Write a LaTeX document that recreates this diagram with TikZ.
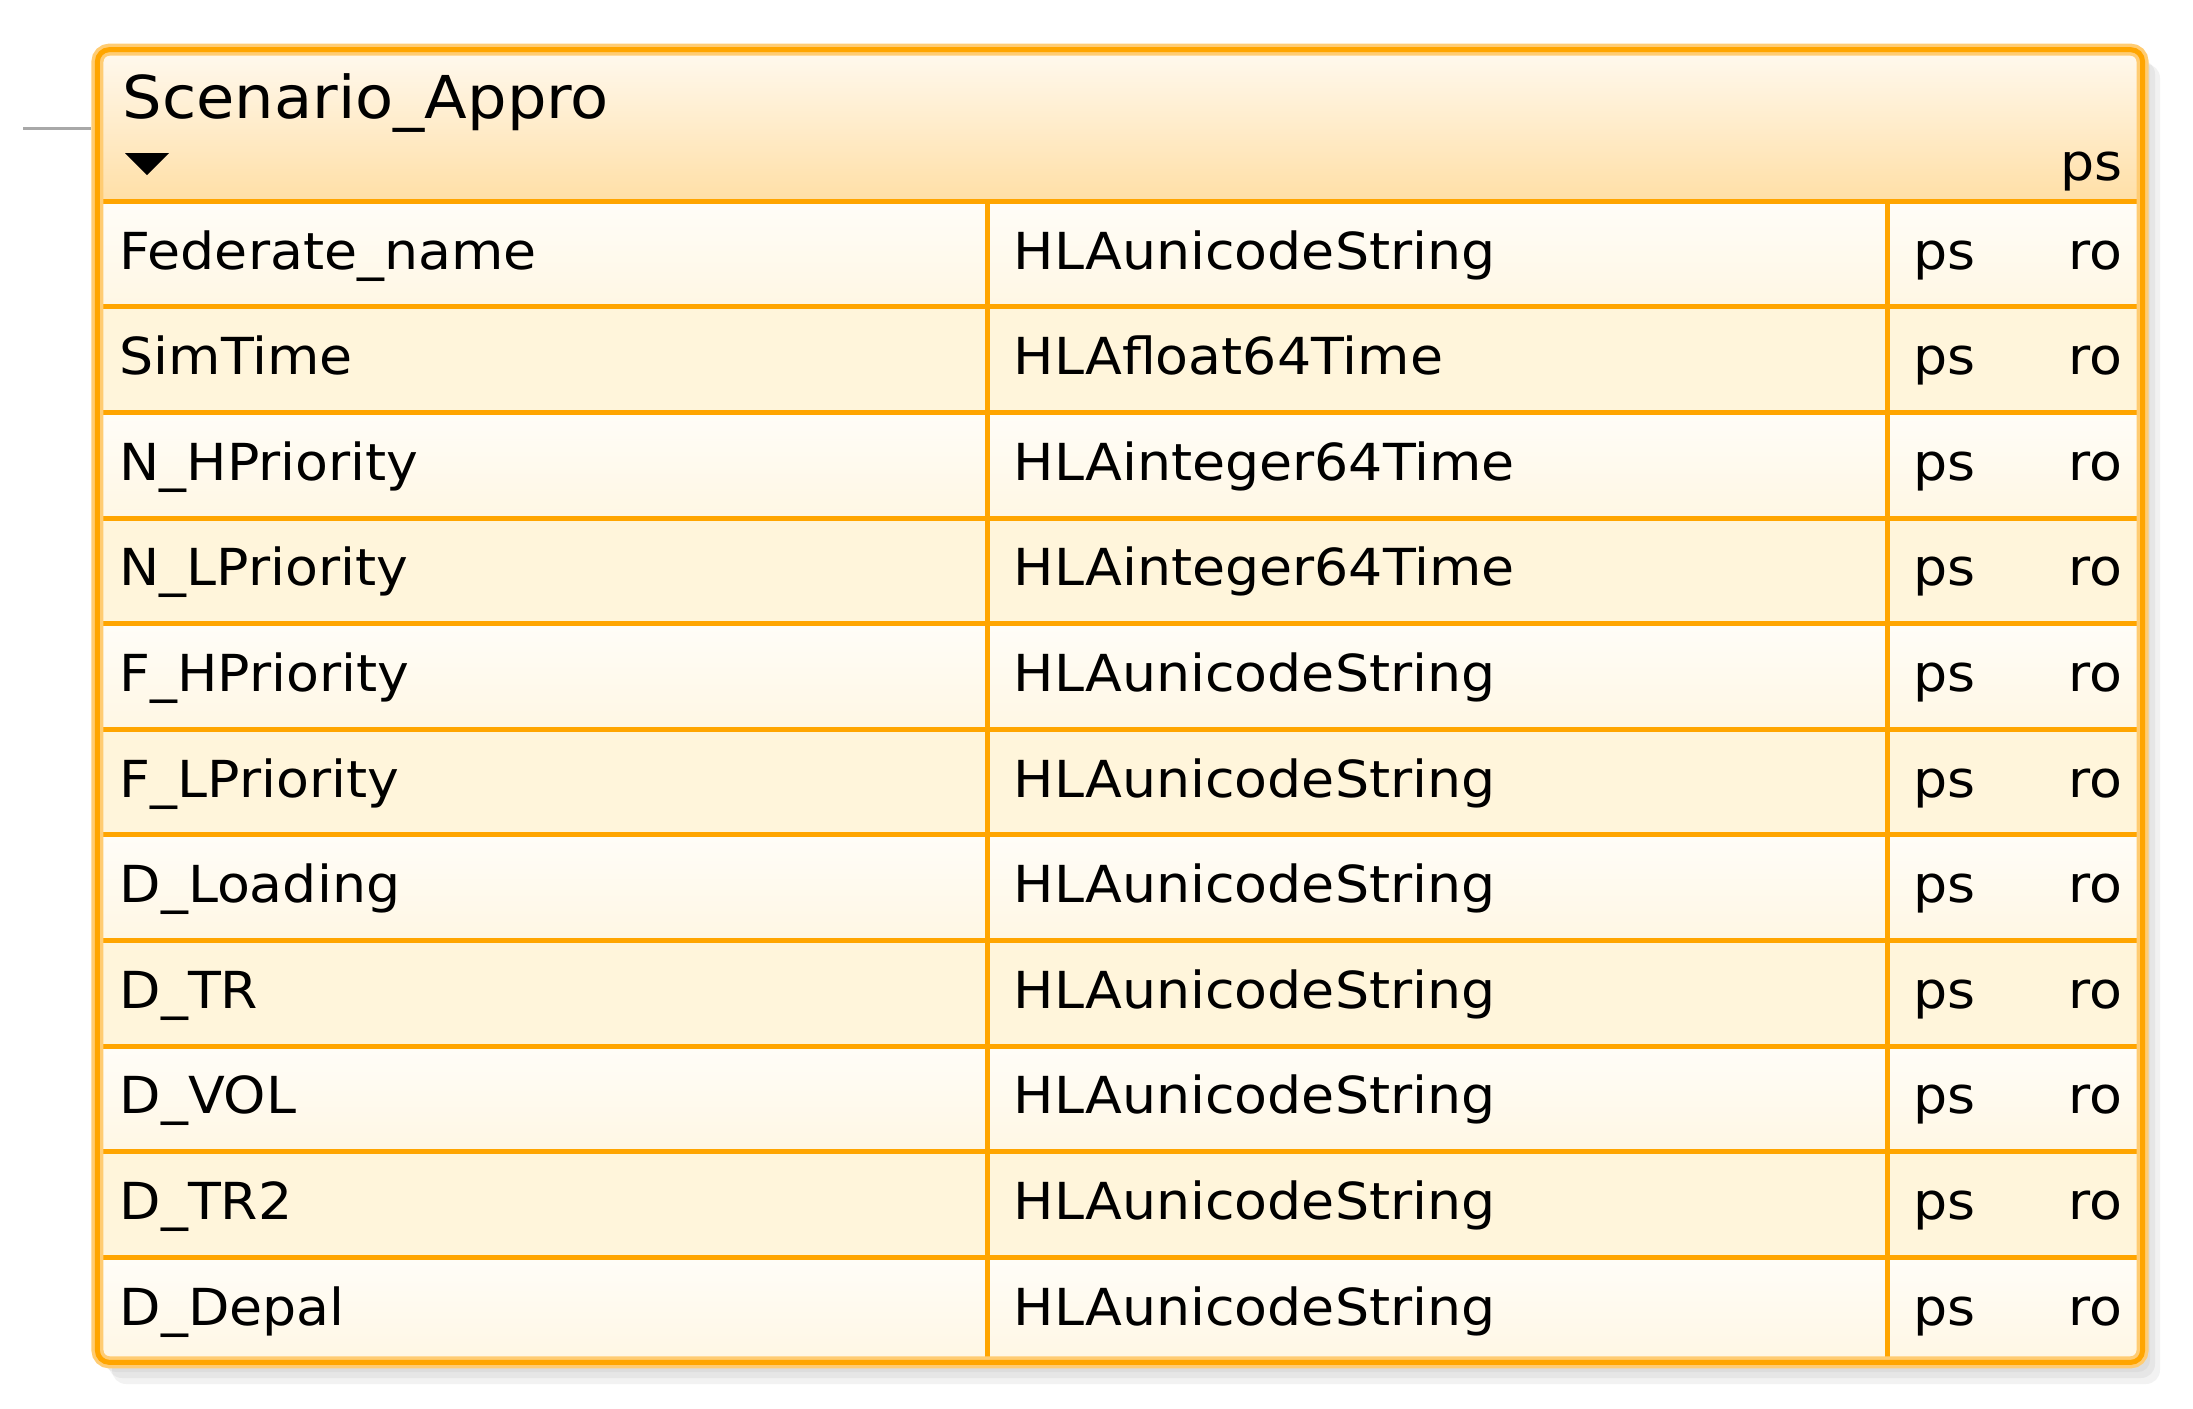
\documentclass[tikz,border=0pt]{standalone}
\usepackage{fontspec}
\setmainfont{DejaVu Sans}[FakeStretch=1.055]
\usetikzlibrary{positioning,shapes}

\definecolor{frameorange}{HTML}{FFA500}
\definecolor{framehalo}{HTML}{FFCC73}
\definecolor{headlight}{HTML}{FFF9EF}
\definecolor{headdark}{HTML}{FFDFA6}
\definecolor{rowlight}{HTML}{FFFDF8}
\definecolor{rowmid}{HTML}{FFF7E4}
\definecolor{rowcream}{HTML}{FFF5DB}
\definecolor{leadgray}{HTML}{A8A8A8}

\begin{document}
\begin{tikzpicture}[x=0.01cm,y=-0.01cm,thin]
\tikzstyle{cell}=[anchor=base west,inner sep=0pt,font=\fontsize{14.5}{17}\selectfont,text=black]
\tikzstyle{title}=[anchor=base west,inner sep=0pt,font=\fontsize{16.8}{20}\selectfont,text=black]
\tikzstyle{oddrow}=[rectangle,inner sep=0pt,minimum width=20.44cm,minimum height=1.056cm,top color=rowlight,bottom color=rowmid]
\tikzstyle{evenrow}=[rectangle,inner sep=0pt,minimum width=20.44cm,minimum height=1.056cm,fill=rowcream]
\tikzstyle{grid}=[draw=frameorange,line width=0.05cm]
\tikzstyle{frame}=[rectangle,rounded corners=0.12cm,inner sep=0pt,minimum width=20.44cm,minimum height=13.12cm]

\useasboundingbox (0,0) rectangle (2193,1408);

% shadow
\fill[black,opacity=0.05,rounded corners=0.14cm] (112,64) rectangle (2160,1384);
\fill[black,opacity=0.05,rounded corners=0.14cm] (108,60) rectangle (2155,1378);
\fill[black,opacity=0.04,rounded corners=0.12cm] (104,56) rectangle (2150,1372);

\node[frame,fill=white] (box) at (1120,706) {};

\begin{scope}
\clip[rounded corners=0.12cm] (98,50) rectangle (2142,1362);
\node[rectangle,inner sep=0pt,minimum width=20.44cm,minimum height=1.51cm,top color=headlight,bottom color=headdark] (head) at (1120,125.25) {};
\node[oddrow]  (r1)  at (1120,253.3)  {};
\node[evenrow] (r2)  at (1120,358.9)  {};
\node[oddrow]  (r3)  at (1120,464.5)  {};
\node[evenrow] (r4)  at (1120,570.1)  {};
\node[oddrow]  (r5)  at (1120,675.7)  {};
\node[evenrow] (r6)  at (1120,781.3)  {};
\node[oddrow]  (r7)  at (1120,886.9)  {};
\node[evenrow] (r8)  at (1120,992.5)  {};
\node[oddrow]  (r9)  at (1120,1098.1) {};
\node[evenrow] (r10) at (1120,1203.7) {};
\node[oddrow]  (r11) at (1120,1309.3) {};
\end{scope}

% table lines
\draw[grid] (head.south west) -- (head.south east);
\draw[grid] (r1.south west) -- (r1.south east);
\draw[grid] (r2.south west) -- (r2.south east);
\draw[grid] (r3.south west) -- (r3.south east);
\draw[grid] (r4.south west) -- (r4.south east);
\draw[grid] (r5.south west) -- (r5.south east);
\draw[grid] (r6.south west) -- (r6.south east);
\draw[grid] (r7.south west) -- (r7.south east);
\draw[grid] (r8.south west) -- (r8.south east);
\draw[grid] (r9.south west) -- (r9.south east);
\draw[grid] (r10.south west) -- (r10.south east);
\draw[grid] (987.5,200.5) -- (987.5,1361.5);
\draw[grid] (1887,200.5) -- (1887,1361.5);

% frame
\node[frame,draw=framehalo,line width=0.12cm] (halo) at (box) {};
\node[frame,draw=frameorange,line width=0.05cm] at (box) {};

\coordinate (lead) at (23,128);
\draw[leadgray,line width=0.03cm] (lead) -- (lead -| halo.west);

% header
\node[title] (name) at (122,118) {Scenario\_Appro};
\fill[black] (125,153) -- (169,153) -- (147,175) -- cycle;
\node[cell,anchor=base east] (hps) at (2123,180) {ps};

% rows
\node[cell] (a1)  at (119,269.0)  {Federate\_name};
\node[cell] (b1)  at (1013,269.0) {HLAunicodeString};
\node[cell] (c1)  at (1913,269.0) {ps};
\node[cell,anchor=base east] (d1)  at (2123,269.0) {ro};

\node[cell] (a2)  at (119,374.6)  {SimTime};
\node[cell] (b2)  at (1013,374.6) {HLAfloat64Time};
\node[cell] (c2)  at (1913,374.6) {ps};
\node[cell,anchor=base east] (d2)  at (2123,374.6) {ro};

\node[cell] (a3)  at (119,480.2)  {N\_HPriority};
\node[cell] (b3)  at (1013,480.2) {HLAinteger64Time};
\node[cell] (c3)  at (1913,480.2) {ps};
\node[cell,anchor=base east] (d3)  at (2123,480.2) {ro};

\node[cell] (a4)  at (119,585.8)  {N\_LPriority};
\node[cell] (b4)  at (1013,585.8) {HLAinteger64Time};
\node[cell] (c4)  at (1913,585.8) {ps};
\node[cell,anchor=base east] (d4)  at (2123,585.8) {ro};

\node[cell] (a5)  at (119,691.4)  {F\_HPriority};
\node[cell] (b5)  at (1013,691.4) {HLAunicodeString};
\node[cell] (c5)  at (1913,691.4) {ps};
\node[cell,anchor=base east] (d5)  at (2123,691.4) {ro};

\node[cell] (a6)  at (119,797.0)  {F\_LPriority};
\node[cell] (b6)  at (1013,797.0) {HLAunicodeString};
\node[cell] (c6)  at (1913,797.0) {ps};
\node[cell,anchor=base east] (d6)  at (2123,797.0) {ro};

\node[cell] (a7)  at (119,902.6)  {D\_Loading};
\node[cell] (b7)  at (1013,902.6) {HLAunicodeString};
\node[cell] (c7)  at (1913,902.6) {ps};
\node[cell,anchor=base east] (d7)  at (2123,902.6) {ro};

\node[cell] (a8)  at (119,1008.2)  {D\_TR};
\node[cell] (b8)  at (1013,1008.2) {HLAunicodeString};
\node[cell] (c8)  at (1913,1008.2) {ps};
\node[cell,anchor=base east] (d8)  at (2123,1008.2) {ro};

\node[cell] (a9)  at (119,1113.8)  {D\_VOL};
\node[cell] (b9)  at (1013,1113.8) {HLAunicodeString};
\node[cell] (c9)  at (1913,1113.8) {ps};
\node[cell,anchor=base east] (d9)  at (2123,1113.8) {ro};

\node[cell] (a10) at (119,1219.4)  {D\_TR2};
\node[cell] (b10) at (1013,1219.4) {HLAunicodeString};
\node[cell] (c10) at (1913,1219.4) {ps};
\node[cell,anchor=base east] (d10) at (2123,1219.4) {ro};

\node[cell] (a11) at (119,1325.0)  {D\_Depal};
\node[cell] (b11) at (1013,1325.0) {HLAunicodeString};
\node[cell] (c11) at (1913,1325.0) {ps};
\node[cell,anchor=base east] (d11) at (2123,1325.0) {ro};
\end{tikzpicture}
\end{document}
